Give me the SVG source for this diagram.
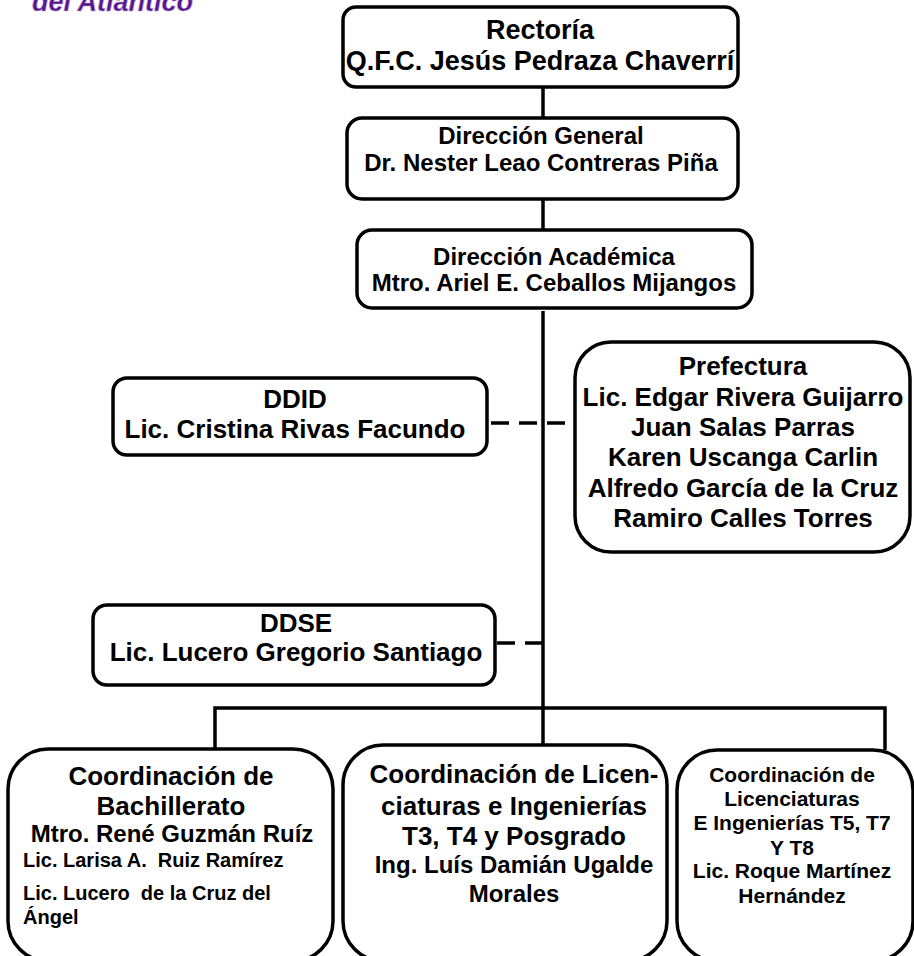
<svg xmlns="http://www.w3.org/2000/svg" width="914" height="956" viewBox="0 0 914 956">
<style>
.box{fill:#fff;stroke:#000;stroke-width:3.5}
.ln{fill:none;stroke:#000;stroke-width:3.5}
.dash{fill:none;stroke:#000;stroke-width:3.5;stroke-dasharray:18 10}
text{font-family:"Liberation Sans",Arial,sans-serif;font-weight:bold;fill:#000}
.c{text-anchor:middle}
.f27{font-size:27px}.f26{font-size:26px}.f24{font-size:24px}.f21{font-size:21px}.f20{font-size:20px}
.logo{font-size:27px;font-style:italic;fill:#561689;stroke:#b79ad6;stroke-width:0.6}
</style>
<rect width="914" height="956" fill="#fff"/>
<text class="logo" x="32" y="11">del Atlántico</text>
<g id="connectors">
<line class="ln" x1="543" y1="87" x2="543" y2="118"/>
<line class="ln" x1="543" y1="199" x2="543" y2="230"/>
<line class="ln" x1="543" y1="311" x2="543" y2="746"/>
<line class="dash" x1="491" y1="423" x2="575" y2="423"/>
<line class="dash" x1="497" y1="643" x2="543" y2="643"/>
<polyline class="ln" points="215,749 215,708 885,708 885,750"/>
</g>
<g id="rectoria">
<rect class="box" x="343" y="7" width="395" height="80" rx="13"/>
<text class="c f27" x="540" y="39">Rectoría</text>
<text class="c f27" x="540" y="70">Q.F.C. Jesús Pedraza Chaverrí</text>
</g>
<g id="direccion-general">
<rect class="box" x="347" y="118" width="391" height="81" rx="15"/>
<text class="c f24" x="541" y="144">Dirección General</text>
<text class="c f24" x="541" y="171">Dr. Nester Leao Contreras Piña</text>
</g>
<g id="direccion-academica">
<rect class="box" x="357" y="230" width="395" height="78" rx="15"/>
<text class="c f24" x="554" y="265">Dirección Académica</text>
<text class="c f24" x="554" y="291">Mtro. Ariel E. Ceballos Mijangos</text>
</g>
<g id="ddid">
<rect class="box" x="113" y="378" width="374" height="77" rx="14"/>
<text class="c f26" x="295" y="408">DDID</text>
<text class="c f26" x="295" y="438">Lic. Cristina Rivas Facundo</text>
</g>
<g id="prefectura">
<rect class="box" x="575" y="342" width="335" height="210" rx="36"/>
<text class="c f26" x="743" y="375">Prefectura</text>
<text class="c f26" x="743" y="406">Lic. Edgar Rivera Guijarro</text>
<text class="c f26" x="743" y="436">Juan Salas Parras</text>
<text class="c f26" x="743" y="466">Karen Uscanga Carlin</text>
<text class="c f26" x="743" y="497">Alfredo García de la Cruz</text>
<text class="c f26" x="743" y="527">Ramiro Calles Torres</text>
</g>
<g id="ddse">
<rect class="box" x="93" y="605" width="402" height="80" rx="14"/>
<text class="c f26" x="296" y="632">DDSE</text>
<text class="c f26" x="296" y="661">Lic. Lucero Gregorio Santiago</text>
</g>
<g id="coord-bachillerato">
<rect class="box" x="8" y="749" width="325" height="212" rx="40"/>
<text class="c f26" x="171" y="785">Coordinación de</text>
<text class="c f26" x="171" y="815">Bachillerato</text>
<text class="c f24" x="172" y="842">Mtro. René Guzmán Ruíz</text>
<text class="f20" x="23" y="867" xml:space="preserve">Lic. Larisa A.  Ruiz Ramírez</text>
<text class="f20" x="23" y="900" xml:space="preserve">Lic. Lucero  de la Cruz del</text>
<text class="f20" x="23" y="924">Ángel</text>
</g>
<g id="coord-lic-t3">
<rect class="box" x="343" y="745" width="324" height="216" rx="40"/>
<text class="c f26" x="514" y="783">Coordinación de Licen-</text>
<text class="c f26" x="514" y="815">ciaturas e Ingenierías</text>
<text class="c f26" x="514" y="845">T3, T4 y Posgrado</text>
<text class="c f24" x="514" y="873">Ing. Luís Damián Ugalde</text>
<text class="c f24" x="514" y="902">Morales</text>
</g>
<g id="coord-lic-t5">
<rect class="box" x="677" y="750" width="236" height="211" rx="40"/>
<text class="c f21" x="792" y="782">Coordinación de</text>
<text class="c f21" x="792" y="806">Licenciaturas</text>
<text class="c f21" x="792" y="830">E Ingenierías T5, T7</text>
<text class="c f21" x="792" y="855">Y T8</text>
<text class="c f21" x="792" y="878">Lic. Roque Martínez</text>
<text class="c f21" x="792" y="903">Hernández</text>
</g>
</svg>
